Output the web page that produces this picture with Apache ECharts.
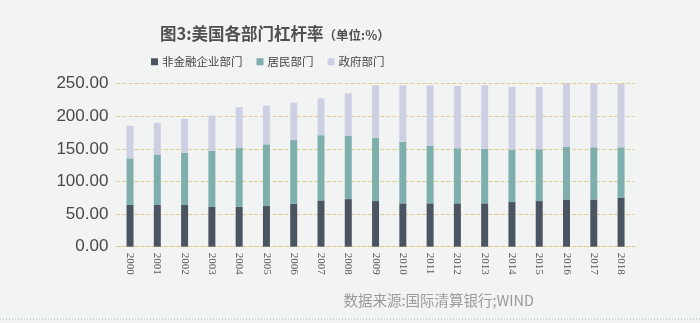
<!DOCTYPE html>
<html>
<head>
<meta charset="utf-8">
<script src="https://cdn.jsdelivr.net/npm/echarts@6/dist/echarts.min.js"></script>
<style>
html,body{margin:0;padding:0;background:#f2f4f4;}
#c{width:700px;height:323px;}
</style>
</head>
<body>
<div id="c"></div>
<script>
const years = ['2000','2001','2002','2003','2004','2005','2006','2007','2008','2009','2010','2011','2012','2013','2014','2015','2016','2017','2018'];
const nonFinancial = [64, 64, 64, 61, 61, 63, 66, 71, 73, 70, 66.5, 66.5, 66.5, 66.5, 68.5, 70, 72.5, 72.5, 75.5];
const household = [71.5, 77.5, 80, 86, 91, 94, 97.5, 100, 97.5, 97, 94.5, 88.5, 84.5, 83.5, 80, 79.5, 81, 80, 77];
const government = [50, 48.5, 52, 54, 62, 59.5, 57.5, 56.5, 65, 80.5, 86.5, 92.5, 95.5, 97.5, 96.5, 95.5, 96.5, 97.5, 97];
const yTicks = [0, 50, 100, 150, 200, 250];
const seriesNames = ['非金融企业部门', '居民部门', '政府部门'];
const titleMain = '图3:美国各部门杠杆率';
const titleUnit = '（单位:%）';
const sourceText = '数据来源:国际清算银行;WIND';

const chart = echarts.init(document.getElementById('c'), null, {renderer: 'canvas'});
const colors = ['#4b5561', '#7eafac', '#cdd0e3'];
const dataSets = [nonFinancial, household, government];

chart.setOption({
  backgroundColor: '#f2f4f4',
  animation: false,
  color: colors,
  title: {
    text: '{a|' + titleMain + '}{b|' + titleUnit + '}',
    left: 155,
    top: 20,
    textStyle: {
      rich: {
        a: {fontSize: 16.5, fontWeight: 'bold', color: '#505050', fontFamily: 'Noto Sans CJK SC'},
        b: {fontSize: 12.5, color: '#505050', fontFamily: 'Noto Sans CJK SC', padding: [3,0,0,0]}
      }
    }
  },
  legend: {
    left: 146,
    top: 51,
    itemWidth: 7,
    itemHeight: 7,
    itemGap: 14,
    icon: 'rect',
    textStyle: {fontSize: 11.5, color: '#444', fontFamily: 'Noto Sans CJK SC', padding: [0,0,0,-1]},
    data: seriesNames
  },
  grid: {left: 116.4, right: 65.3, top: 83.7, bottom: 76.3, containLabel: false},
  xAxis: {
    type: 'category',
    data: years,
    axisLine: {show: true, lineStyle: {color: '#e0cc8c', type: 'dashed', width: 1}},
    axisTick: {show: false},
    axisLabel: {rotate: -90, margin: 6, fontSize: 11, color: '#555', fontFamily: 'Liberation Serif', interval: 0}
  },
  yAxis: {
    type: 'value',
    min: yTicks[0],
    max: yTicks[yTicks.length - 1],
    interval: 50,
    axisLine: {show: false},
    axisTick: {show: false},
    axisLabel: {margin: 8, fontSize: 17, color: '#484848', fontFamily: 'Liberation Sans', formatter: v => v.toFixed(2)},
    splitLine: {show: true, lineStyle: {color: '#e0cc8c', type: 'dashed', width: 1}}
  },
  series: seriesNames.map((n, i) => ({
    name: n,
    type: 'bar',
    stack: 'total',
    barWidth: 7,
    data: dataSets[i],
    itemStyle: {color: colors[i]}
  })),
  graphic: [
    {type: 'text', right: 166, top: 293, style: {text: sourceText, fontSize: 14.5, fill: '#9a9a9a', fontFamily: 'Noto Sans CJK SC'}},
    {type: 'line', shape: {x1: 0, y1: 319, x2: 700, y2: 319}, style: {stroke: '#9fb5b5', lineWidth: 1, lineDash: [1, 2]}}
  ]
});
</script>
</body>
</html>
